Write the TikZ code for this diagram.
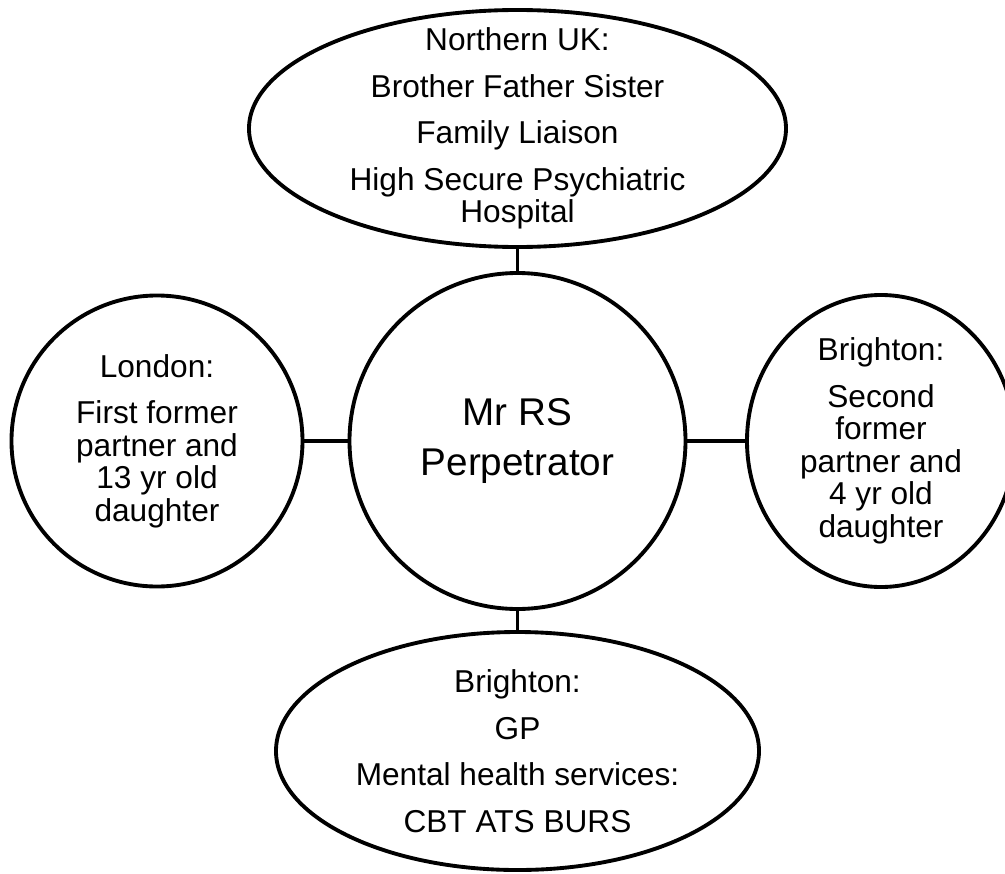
\documentclass[tikz,border=0pt]{standalone}
\usepackage{fontspec}
\setmainfont{Liberation Sans}
\usepackage{tikz}
\usetikzlibrary{shapes.geometric,positioning}
\tikzstyle{place} = [ellipse, draw, line width=2.2pt, fill=white, inner sep=0pt]
\tikzstyle{roundplace} = [circle, draw, line width=2.2pt, fill=white, inner sep=0pt]
\tikzstyle{txt} = [align=center, inner sep=0pt, font=\fontsize{18}{18.5}\selectfont]
\tikzstyle{line} = [draw, line width=2.2pt]

\begin{document}
\begin{tikzpicture}
    \useasboundingbox (-10.35,-8.64) rectangle (9.75,8.82);
    % Place nodes
    \node [roundplace, minimum size=6.72cm] (centre) {};
    \node [place, above of=centre, node distance=6.25cm, minimum width=10.74cm, minimum height=4.74cm] (north) {};
    \node [roundplace, left of=centre, node distance=7.21cm, minimum size=5.82cm] (london) {};
    \node [place, right of=centre, node distance=7.27cm, minimum width=5.36cm, minimum height=5.84cm] (brighton) {};
    \node [place, below of=centre, node distance=6.2cm, minimum width=9.66cm, minimum height=4.76cm] (services) {};

    \node [txt, font=\fontsize{22}{28}\selectfont] (centretxt) at (centre) {Mr RS\\Perpetrator};
    \node [txt] (northtxt) at (north) {Northern UK:\\[8pt]Brother Father Sister\\[8pt]Family Liaison\\[8pt]High Secure Psychiatric\\Hospital};
    \node [txt] (londontxt) at (london) {London:\\[8pt]First former\\partner and\\13 yr old\\daughter};
    \node [txt] (brightontxt) at (brighton) {Brighton:\\[8pt]Second\\former\\partner and\\4 yr old\\daughter};
    \node [txt] (servicestxt) at (services) {Brighton:\\[8pt]GP\\[8pt]Mental health services:\\[8pt]CBT ATS BURS};

    % Draw edges
    \path [line] (north) -- (centre);
    \path [line] (london) -- (centre);
    \path [line] (brighton) -- (centre);
    \path [line] (services) -- (centre);
\end{tikzpicture}
\end{document}
